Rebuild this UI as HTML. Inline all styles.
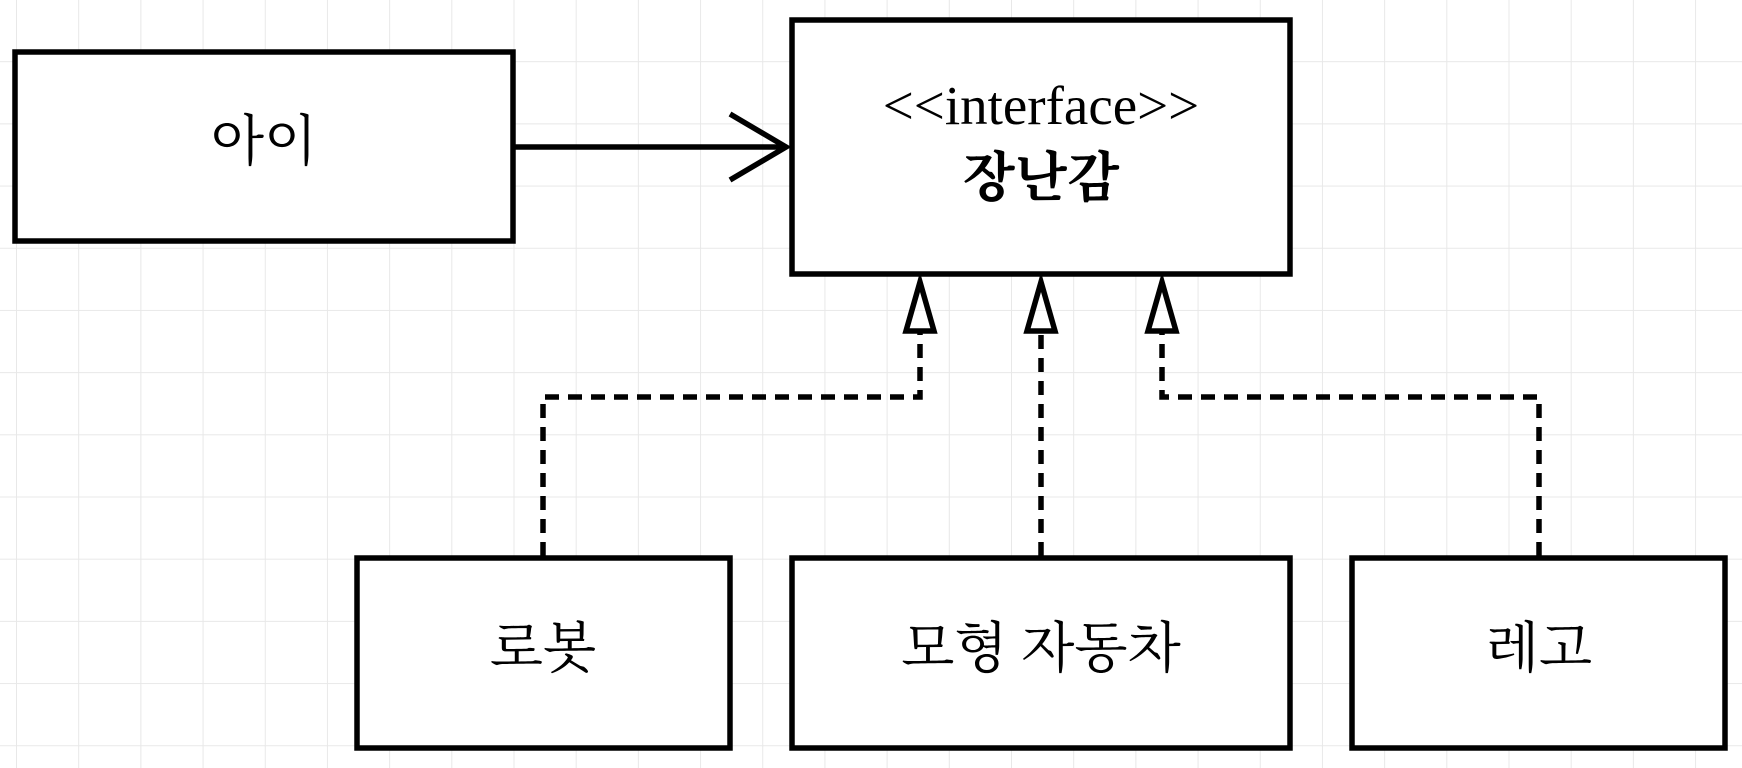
<!DOCTYPE html>
<html><head><meta charset="utf-8"><style>
html,body{margin:0;padding:0;}
body{width:1742px;height:768px;overflow:hidden;background:#fff;
background-image:linear-gradient(to right,#e8e8e8 1px,transparent 1px),linear-gradient(to bottom,#e8e8e8 1px,transparent 1px);
background-size:62.2px 62.2px;background-position:16px -1px;}
svg{position:absolute;left:0;top:0;}
text{font-family:"Liberation Serif","Noto Serif CJK SC","Noto Sans CJK KR",serif;fill:#000;}
</style></head><body>
<svg width="1742" height="768" viewBox="0 0 1742 768">
<g fill="#fff" stroke="#000" stroke-width="5.5">
<rect x="15" y="52" width="498" height="189"/>
<rect x="792" y="20" width="498" height="254"/>
<rect x="357" y="558" width="373" height="190"/>
<rect x="792" y="558" width="498" height="190"/>
<rect x="1352" y="558" width="373" height="190"/>
</g>
<g fill="none" stroke="#000" stroke-width="5.5">
<line x1="513" y1="147" x2="785" y2="147"/>
<polyline points="730,114 786,147 730,180"/>
<g stroke-dasharray="14,9">
<polyline points="543,556 543,397 920,397 920,333"/>
<polyline points="1041,556 1041,333"/>
<polyline points="1539,556 1539,397 1162,397 1162,333"/>
</g>
<polygon points="920,282 906,331 934,331"/>
<polygon points="1041,282 1027,331 1055,331"/>
<polygon points="1162,282 1148,331 1176,331"/>
</g>
<text x="264" y="160" font-size="55" text-anchor="middle">아이</text>
<text x="1041" y="124" font-size="55" text-anchor="middle">&lt;&lt;interface&gt;&gt;</text>
<text x="1041" y="196" font-size="54" font-weight="bold" text-anchor="middle">장난감</text>
<text x="543" y="667" font-size="55" text-anchor="middle">로봇</text>
<text x="1041" y="667" font-size="55" text-anchor="middle">모형 자동차</text>
<text x="1539" y="667" font-size="55" text-anchor="middle">레고</text>
</svg>
</body></html>
